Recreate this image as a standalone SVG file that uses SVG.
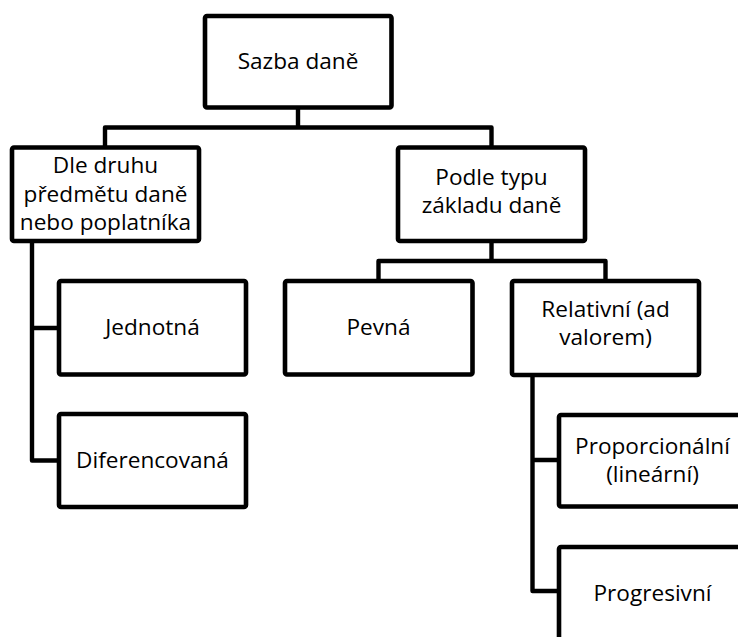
<svg xmlns="http://www.w3.org/2000/svg" width="738" height="637" viewBox="0 0 738 637">
<style>
.box{fill:#fff;stroke:#000;stroke-width:4.6;stroke-linejoin:round}
.con{fill:none;stroke:#000;stroke-width:4.4;stroke-linejoin:round;stroke-linecap:butt}
text{font-family:"Open Sans","Noto Sans",sans-serif;font-size:22.6px;fill:#000;text-anchor:middle}
</style>
<rect width="738" height="637" fill="#fff"/>
<g id="connectors">
<path class="con" d="M298,107.5 V127.5 M105,147.5 V127.5 H491.5 V147.5"/>
<path class="con" d="M32,241 V460.5 H59 M32,328 H59"/>
<path class="con" d="M491.5,241 V261 M378.5,281 V261 H605.5 V281"/>
<path class="con" d="M532.5,375 V591 H559 M532.5,460 H559"/>
</g>
<g id="n-sazba">
<rect class="box" x="205" y="16" width="186.5" height="91.5" rx="2"/>
<text x="298" y="69">Sazba daně</text>
</g>
<g id="n-dle">
<rect class="box" x="12" y="147.5" width="187" height="93.5" rx="2"/>
<text x="105.5" y="173.3">Dle druhu</text>
<text x="105.5" y="201.7">předmětu daně</text>
<text x="105.5" y="230">nebo poplatníka</text>
</g>
<g id="n-podle">
<rect class="box" x="398" y="147.5" width="187" height="93.5" rx="2"/>
<text x="491.5" y="184.5">Podle typu</text>
<text x="491.5" y="213">základu daně</text>
</g>
<g id="n-jednotna">
<rect class="box" x="59" y="281" width="187" height="93.5" rx="2"/>
<text x="152.5" y="335">Jednotná</text>
</g>
<g id="n-diferencovana">
<rect class="box" x="59" y="414" width="187" height="93" rx="2"/>
<text x="152.5" y="468">Diferencovaná</text>
</g>
<g id="n-pevna">
<rect class="box" x="285" y="281" width="187.5" height="93.5" rx="2"/>
<text x="378.5" y="335">Pevná</text>
</g>
<g id="n-relativni">
<rect class="box" x="512" y="281" width="187" height="94" rx="2"/>
<text x="605.5" y="316.7">Relativní (ad</text>
<text x="605.5" y="345">valorem)</text>
</g>
<g id="n-proporcionalni">
<rect class="box" x="559" y="415" width="187" height="91.5" rx="2"/>
<text x="652.5" y="454">Proporcionální</text>
<text x="652.5" y="482">(lineární)</text>
</g>
<g id="n-progresivni">
<rect class="box" x="559" y="547" width="187" height="93.5" rx="2"/>
<text x="652.5" y="601">Progresivní</text>
</g>
</svg>
